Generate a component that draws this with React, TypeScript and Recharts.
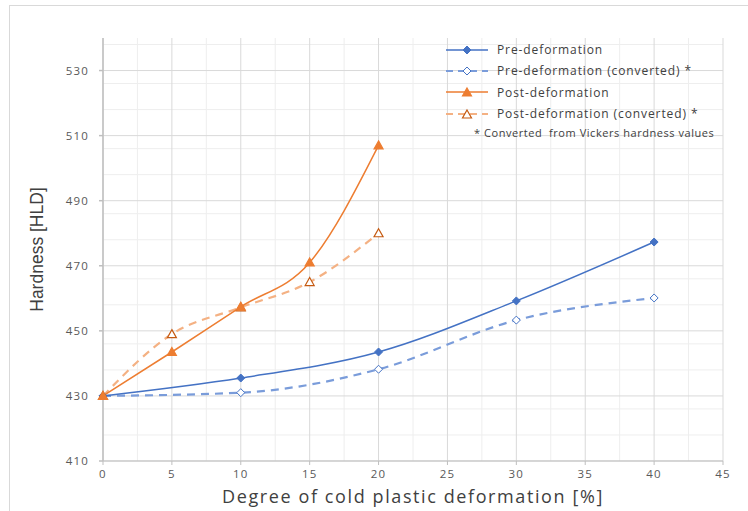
import React from 'react'
import { LineChart, Line, XAxis, YAxis, CartesianGrid, Label } from 'recharts'

const preDeformation = [
  { x: 0, y: 430 },
  { x: 10, y: 435.5 },
  { x: 20, y: 443.5 },
  { x: 30, y: 459.2 },
  { x: 40, y: 477.3 },
]

const preConverted = [
  { x: 0, y: 430 },
  { x: 10, y: 431 },
  { x: 20, y: 438.2 },
  { x: 30, y: 453.3 },
  { x: 40, y: 460.1 },
]

const postDeformation = [
  { x: 0, y: 430 },
  { x: 5, y: 443.5 },
  { x: 10, y: 457.4 },
  { x: 15, y: 471 },
  { x: 20, y: 507 },
]

const postConverted = [
  { x: 0, y: 430 },
  { x: 5, y: 449 },
  { x: 10, y: 457.2 },
  { x: 15, y: 465 },
  { x: 20, y: 480 },
]

const xTicks = [0, 5, 10, 15, 20, 25, 30, 35, 40, 45]
const yTicks = [410, 430, 450, 470, 490, 510, 530]
const xMinor = [2.5, 7.5, 12.5, 17.5, 22.5, 27.5, 32.5, 37.5, 42.5]
const yMinor = [414, 418, 422, 426, 434, 438, 442, 446, 454, 458, 462, 466, 474, 478, 482, 486, 494, 498, 502, 506, 514, 518, 522, 526, 534, 538]

const BLUE = '#4472C4'
const BLUE_LIGHT = '#7A9CDA'
const ORANGE = '#ED7D31'
const ORANGE_LIGHT = '#F4B183'
const ORANGE_DARK = '#C55A11'

const font = '"Open Sans", sans-serif'
const tickStyle = { fill: '#595959', fontSize: 11.5, fontFamily: font, letterSpacing: 1.2 }

const diamond = (fill: string, stroke: string) => (props: any) => {
  const { cx, cy, key } = props
  if (cx == null || cy == null) return <g key={key} />
  return (
    <path
      key={key}
      d={`M${cx},${cy - 4} L${cx + 4},${cy} L${cx},${cy + 4} L${cx - 4},${cy} Z`}
      fill={fill}
      stroke={stroke}
      strokeWidth={1}
    />
  )
}

const triangle = (fill: string, stroke: string) => (props: any) => {
  const { cx, cy, key } = props
  if (cx == null || cy == null) return <g key={key} />
  return (
    <path
      key={key}
      d={`M${cx},${cy - 4.5} L${cx + 4.5},${cy + 3.5} L${cx - 4.5},${cy + 3.5} Z`}
      fill={fill}
      stroke={stroke}
      strokeWidth={1.2}
    />
  )
}

const legendItems = [
  { label: 'Pre-deformation', color: BLUE, dash: '', marker: 'diamond', fill: BLUE, stroke: BLUE },
  { label: 'Pre-deformation (converted) *', color: BLUE_LIGHT, dash: '7 5', marker: 'diamond', fill: '#fff', stroke: BLUE },
  { label: 'Post-deformation', color: ORANGE, dash: '', marker: 'triangle', fill: ORANGE, stroke: ORANGE },
  { label: 'Post-deformation (converted) *', color: ORANGE_LIGHT, dash: '7 5', marker: 'triangle', fill: '#fff', stroke: ORANGE_DARK },
]

// legend drawn as an overlay so it doesn't shrink the plot area
const ChartLegend = () => (
  <div style={{ position: 'absolute', left: 444, top: 39, fontFamily: font, fontSize: 12, letterSpacing: 0.9, color: '#404040' }}>
    {legendItems.map((it) => (
      <div key={it.label} style={{ display: 'flex', alignItems: 'center', height: 21.3 }}>
        <svg width={48} height={12} style={{ marginRight: 5 }}>
          <line x1={2} y1={6} x2={44} y2={6} stroke={it.color} strokeWidth={it.dash ? 2 : 1.5} strokeDasharray={it.dash} />
          {it.marker === 'diamond'
            ? diamond(it.fill, it.stroke)({ cx: 23, cy: 6 })
            : triangle(it.fill, it.stroke)({ cx: 23, cy: 6.5 })}
        </svg>
        <span>{it.label}</span>
      </div>
    ))}
    <div style={{ fontSize: 11, letterSpacing: 0.55, marginLeft: 30, marginTop: 1 }}>
      * Converted&nbsp; from Vickers hardness values
    </div>
  </div>
)

export default function App() {
  return (
    <div style={{ position: 'absolute', left: 0, top: 0, width: 748, height: 511, background: '#fff' }}>
      <div
        style={{
          position: 'absolute',
          left: 9,
          top: 5,
          right: 0,
          bottom: 0,
          borderTop: '1px solid #d9d9d9',
          borderLeft: '1px solid #d9d9d9',
        }}
      />
      <LineChart width={748} height={511} margin={{ top: 38, right: 25, left: 33, bottom: 0 }}>
        <CartesianGrid stroke="#eeeeee" horizontalValues={yMinor} verticalValues={xMinor} />
        <CartesianGrid stroke="#d9d9d9" horizontalValues={yTicks} verticalValues={xTicks} />
        <XAxis
          type="number"
          dataKey="x"
          domain={[0, 45]}
          ticks={xTicks}
          height={50}
          stroke="#bfbfbf"
          tickSize={4}
          tickMargin={5}
          tick={tickStyle}
        >
          <Label
            value="Degree of cold plastic deformation [%]"
            position="insideBottom"
            offset={8}
            style={{ fill: '#404040', fontSize: 18, letterSpacing: 1.6, fontFamily: font }}
          />
        </XAxis>
        <YAxis
          type="number"
          domain={[410, 540]}
          ticks={yTicks}
          width={70}
          stroke="#bfbfbf"
          strokeWidth={1.5}
          tickSize={4}
          tickMargin={10}
          tick={tickStyle}
        >
          <Label
            value="Hardness [HLD]"
            angle={-90}
            position="insideLeft"
            offset={4}
            style={{ fill: '#404040', fontSize: 17.5, fontFamily: '"Liberation Sans Narrow", "Liberation Sans", sans-serif', textAnchor: 'middle' }}
          />
        </YAxis>
        <Line
          data={preConverted}
          dataKey="y"
          type="monotone"
          stroke={BLUE_LIGHT}
          strokeWidth={2.2}
          strokeDasharray="8 6"
          dot={diamond('#fff', BLUE)}
          isAnimationActive={false}
        />
        <Line
          data={preDeformation}
          dataKey="y"
          type="monotone"
          stroke={BLUE}
          strokeWidth={1.5}
          dot={diamond(BLUE, BLUE)}
          isAnimationActive={false}
        />
        <Line
          data={postConverted}
          dataKey="y"
          type="monotone"
          stroke={ORANGE_LIGHT}
          strokeWidth={2.2}
          strokeDasharray="8 6"
          dot={triangle('#fff', ORANGE_DARK)}
          isAnimationActive={false}
        />
        <Line
          data={postDeformation}
          dataKey="y"
          type="monotone"
          stroke={ORANGE}
          strokeWidth={1.5}
          dot={triangle(ORANGE, ORANGE)}
          isAnimationActive={false}
        />
      </LineChart>
      <ChartLegend />
    </div>
  )
}
